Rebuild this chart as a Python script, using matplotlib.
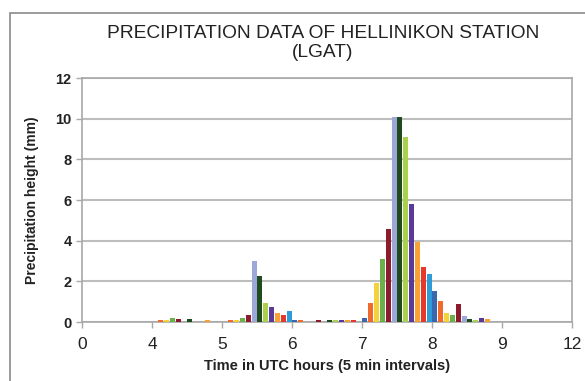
import matplotlib
matplotlib.use("Agg")
import matplotlib.pyplot as plt
from matplotlib.patches import Rectangle
import numpy as np

plt.rcParams['font.family'] = ['Liberation Sans', 'DejaVu Sans']

# Precipitation (mm) per 5-minute interval, 12 intervals per axis segment
seg_0_4 = [0, 0, 0, 0, 0, 0, 0, 0, 0, 0, 0, 0]
seg_4_5 = [0, 0.12, 0.1, 0.2, 0.15, 0, 0.15, 0, 0, 0.1, 0, 0]
seg_5_6 = [0, 0.1, 0.1, 0.2, 0.35, 3.0, 2.27, 0.95, 0.75, 0.43, 0.35, 0.54]
seg_6_7 = [0.1, 0.1, 0, 0, 0.12, 0, 0.12, 0.12, 0.12, 0.12, 0.12, 0]
seg_7_8 = [0.2, 0.95, 1.9, 3.1, 4.55, 10.1, 10.1, 9.1, 5.8, 3.95, 2.7, 2.35]
seg_8_9 = [1.52, 1.02, 0.46, 0.36, 0.9, 0.28, 0.17, 0.12, 0.18, 0.13, 0, 0]
seg_9_12 = [0, 0, 0, 0, 0, 0, 0, 0, 0, 0, 0, 0]
tick_labels = ['0', '4', '5', '6', '7', '8', '9', '12']

precip = seg_0_4 + seg_4_5 + seg_5_6 + seg_6_7 + seg_7_8 + seg_8_9 + seg_9_12

palette = ['#3A68AE', '#F06A2C', '#F4D23C', '#6CB04C', '#8C1B2E', '#9EA8D8',
           '#1F4B1F', '#A9D14C', '#5A3A98', '#F7A232', '#E6382B', '#2F9BD7']

fig = plt.figure(figsize=(5.85, 3.81), dpi=100)
fig.patches.append(Rectangle((10/585, -0.1), 1.0, (381-13)/381 + 0.1,
                             transform=fig.transFigure, fill=False,
                             edgecolor='#8a8a8a', linewidth=1.2))
ax = fig.add_axes([82/585, (381-322)/381, (572-82)/585, (322-78)/381])

n = len(precip)
x = np.arange(n) + 0.5
colors = [palette[i % 12] for i in range(n)]
ax.bar(x, precip, width=0.85, color=colors, zorder=3)

ax.set_xlim(0, n)
ax.set_ylim(0, 12)
ax.set_xticks(np.arange(0, n + 1, 12))
ax.set_xticklabels(tick_labels)
ax.set_yticks(np.arange(0, 13, 2))
ax.yaxis.grid(True, color='#bdbdbd', linewidth=1.5, zorder=0)
for s in ax.spines.values():
    s.set_color('#a8a8a8')
    s.set_linewidth(1.2)
ax.tick_params(axis='both', colors='#a8a8a8', length=4, width=1, labelcolor='#222222')
ax.tick_params(axis='x', labelsize=12.5, pad=7)
ax.tick_params(axis='y', labelsize=10.5)
for lab in ax.get_yticklabels():
    lab.set_fontweight('bold')

ax.set_xlabel('Time in UTC hours (5 min intervals)', fontsize=10.5, fontweight='bold',
              color='#222222', labelpad=5)
ax.set_ylabel('Precipitation height (mm)', fontsize=10, fontweight='bold',
              color='#222222', labelpad=12)

fig.text(323/585, 1 - 43/381, 'PRECIPITATION DATA OF HELLINIKON STATION\n(LGAT)',
         ha='center', va='center', fontsize=13.8, color='#222222', linespacing=1.2)

fig.savefig('out.png', dpi=100)
